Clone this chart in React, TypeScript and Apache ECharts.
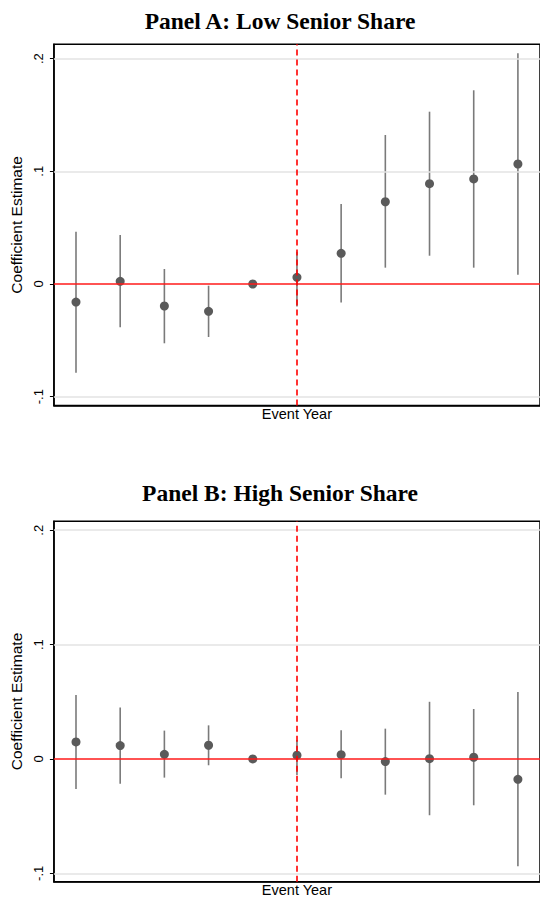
import React, { useEffect, useRef } from "react";
import * as echarts from "echarts";

const eventYears = [-5, -4, -3, -2, -1, 0, 1, 2, 3, 4, 5];

const coefA = [-0.016, 0.0024, -0.0195, -0.0242, 0, 0.0059, 0.0272, 0.073, 0.089, 0.0932, 0.1065];
const lowA = [-0.0787, -0.0384, -0.0526, -0.047, null, -0.02, -0.0163, 0.0145, 0.0251, 0.0145, 0.0083];
const highA = [0.0464, 0.0435, 0.0133, -0.0015, null, 0.0287, 0.071, 0.1322, 0.1529, 0.1719, 0.2047];

const coefB = [0.0149, 0.0117, 0.0041, 0.012, 0, 0.0033, 0.0038, -0.0023, 0.0003, 0.0015, -0.0178];
const lowB = [-0.0262, -0.0216, -0.0163, -0.0055, null, -0.014, -0.0169, -0.0312, -0.0492, -0.0405, -0.0938];
const highB = [0.056, 0.0449, 0.0248, 0.0294, null, 0.0166, 0.0251, 0.0265, 0.05, 0.0437, 0.0586];

const yTicks = [-0.1, 0, 0.1, 0.2];
const gridValues = [-0.1, 0.1, 0.2];
const panelTitles = ["Panel A: Low Senior Share", "Panel B: High Senior Share"];
const xTitle = "Event Year";
const yTitle = "Coefficient Estimate";

const SANS = '"Liberation Sans", Arial, Helvetica, sans-serif';
const SERIF = '"Liberation Serif", "Times New Roman", serif';

function fmtTick(v: number): string {
  if (Math.abs(v) < 1e-9) return "0";
  const s = String(Math.round(Math.abs(v) * 10) / 10).replace(/^0/, "");
  return (v < 0 ? "-" : "") + s;
}

export default function App() {
  const ref = useRef<HTMLDivElement>(null);

  useEffect(() => {
    if (!ref.current) return;
    const chart = echarts.init(ref.current, null, { renderer: "svg" });

    const panels = [
      { coef: coefA, low: lowA, high: highA, top: 44.3, height: 361.2, ymin: -0.1078, ymax: 0.2127 },
      { coef: coefB, low: lowB, high: highB, top: 521.3, height: 360.4, ymin: -0.1073, ymax: 0.2078 },
    ];

    const grids: any[] = [];
    const xAxes: any[] = [];
    const yAxes: any[] = [];
    const series: any[] = [];

    panels.forEach((p, i) => {
      grids.push({
        left: 53,
        right: -5.5,
        top: p.top,
        height: p.height,
        show: true,
        borderColor: "#000",
        borderWidth: 1.5,
        backgroundColor: "#fff",
      });
      xAxes.push({
        gridIndex: i,
        type: "value",
        min: -5.5,
        max: 5.5,
        axisLabel: { show: false },
        axisTick: { show: false },
        splitLine: { show: false },
        axisLine: { show: true, onZero: false, lineStyle: { color: "#000", width: 1.5 } },
        name: xTitle,
        nameLocation: "middle",
        nameGap: 1,
        nameTextStyle: { fontFamily: SANS, fontSize: 14.5, color: "#000", verticalAlign: "top" },
      });
      yAxes.push({
        gridIndex: i,
        type: "value",
        min: p.ymin,
        max: p.ymax,
        axisLine: { show: true, onZero: false, lineStyle: { color: "#000", width: 1.5 } },
        axisTick: { show: true, length: 4, customValues: yTicks, lineStyle: { color: "#000", width: 1 } },
        axisLabel: {
          show: true,
          customValues: yTicks,
          rotate: 90,
          margin: 9,
          fontFamily: SANS,
          fontSize: 13,
          color: "#000",
          formatter: (v: number) => fmtTick(v),
        },
        splitLine: { show: false },
        name: yTitle,
        nameLocation: "middle",
        nameRotate: 90,
        nameGap: 27,
        nameTextStyle: { fontFamily: SANS, fontSize: 15.5, color: "#000" },
      });

      // grid lines
      series.push({
        type: "line",
        xAxisIndex: i,
        yAxisIndex: i,
        data: [],
        silent: true,
        z: 1,
        markLine: {
          silent: true,
          symbol: ["none", "none"],
          label: { show: false },
          lineStyle: { color: "#e3e3e3", width: 1.5, type: "solid" },
          data: gridValues.map((v) => ({ yAxis: v })),
        },
      });

      // confidence intervals
      series.push({
        type: "custom",
        xAxisIndex: i,
        yAxisIndex: i,
        z: 2,
        silent: true,
        encode: { x: 0, y: [1, 2] },
        data: eventYears
          .map((yr, k) => [yr, p.low[k], p.high[k]])
          .filter((d) => d[1] !== null && d[2] !== null),
        renderItem: (params: any, api: any) => {
          const x = api.value(0);
          const a = api.coord([x, api.value(1)]);
          const b = api.coord([x, api.value(2)]);
          return {
            type: "line",
            shape: { x1: a[0], y1: a[1], x2: b[0], y2: b[1] },
            style: { stroke: "#7a7a7a", lineWidth: 1.6 },
          };
        },
      });

      // reference lines
      series.push({
        type: "line",
        xAxisIndex: i,
        yAxisIndex: i,
        data: [],
        silent: true,
        z: 3,
        markLine: {
          silent: true,
          symbol: ["none", "none"],
          label: { show: false },
          data: [
            { yAxis: 0, lineStyle: { color: "#ff1a1a", width: 1.5, type: "solid" } },
            { xAxis: 0, lineStyle: { color: "#ff0000", width: 1.6, type: [6, 4] } },
          ],
        },
      });

      // point estimates
      series.push({
        type: "scatter",
        xAxisIndex: i,
        yAxisIndex: i,
        z: 4,
        symbol: "circle",
        symbolSize: 9,
        itemStyle: { color: "#5a5a5a", opacity: 1 },
        data: eventYears.map((yr, k) => [yr, p.coef[k]]),
      });
    });

    chart.setOption({
      animation: false,
      backgroundColor: "#fff",
      grid: grids,
      xAxis: xAxes,
      yAxis: yAxes,
      series,
      graphic: [
        {
          type: "text",
          x: 280,
          y: 20.5,
          style: {
            text: panelTitles[0],
            font: `bold 23.5px ${SERIF}`,
            fill: "#000",
            textAlign: "center",
            textVerticalAlign: "middle",
          },
        },
        {
          type: "text",
          x: 280,
          y: 492.5,
          style: {
            text: panelTitles[1],
            font: `bold 23.5px ${SERIF}`,
            fill: "#000",
            textAlign: "center",
            textVerticalAlign: "middle",
          },
        },
      ],
    });

    return () => chart.dispose();
  }, []);

  return (
    <div
      ref={ref}
      style={{ position: "absolute", left: 0, top: 0, width: 540, height: 899, background: "#fff" }}
    />
  );
}
